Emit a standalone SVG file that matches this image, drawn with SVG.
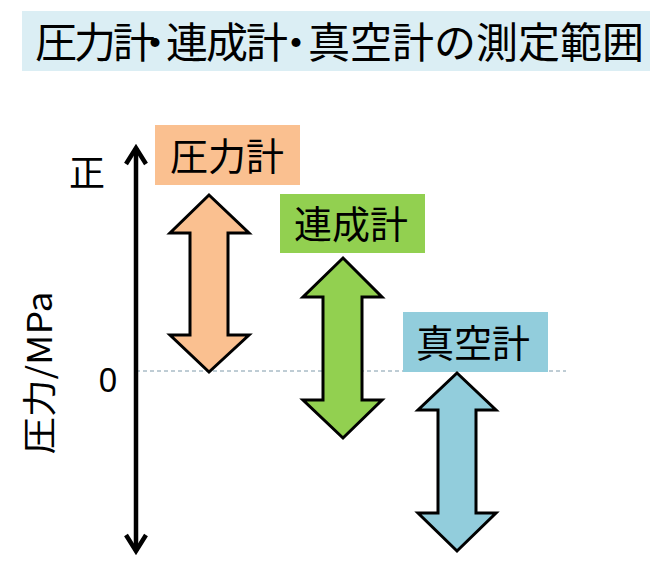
<svg xmlns="http://www.w3.org/2000/svg" width="658" height="577" viewBox="0 0 658 577">
<style>
  text { font-family: "Noto Sans CJK JP", "Liberation Sans", sans-serif; fill: #000; }
  .ttl { font-size: 42px; }
  .lbl { font-size: 38px; }
  .sei { font-size: 36px; }
  .zero { font-size: 33px; font-family: "Noto Sans", "Liberation Sans", sans-serif; }
  .yax { font-size: 34px; }
  .dbl { stroke: #000; stroke-width: 3; stroke-linejoin: miter; }
</style>
<defs>
  <marker id="ah" viewBox="0 0 24 24" refX="20" refY="12" markerWidth="24" markerHeight="24" markerUnits="userSpaceOnUse" orient="auto-start-reverse">
    <polyline points="4,2 20,12 4,22" fill="none" stroke="#000" stroke-width="4.5"/>
  </marker>
</defs>
<rect width="658" height="577" fill="#fff"/>
<g id="title">
  <rect x="22" y="11" width="628" height="60" fill="#DBEEF4"/>
  <text class="ttl" x="35 74 113 134 166 206 246 275 308 350 392 434 476 518 560 602" y="58">圧力計・連成計・真空計の測定範囲</text>
</g>
<g id="connectors">
  <line x1="136" y1="371" x2="566" y2="371" stroke="#7F9AAA" stroke-width="1" stroke-dasharray="4,3"/>
  <line x1="136" y1="551" x2="136" y2="148" stroke="#000" stroke-width="4.5" marker-start="url(#ah)" marker-end="url(#ah)"/>
</g>
<g id="axis-labels">
  <text class="sei" x="87" y="186" text-anchor="middle">正</text>
  <text class="zero" x="108" y="392" text-anchor="middle">0</text>
  <text class="yax" transform="translate(52,373) rotate(-90)" text-anchor="middle" textLength="163" lengthAdjust="spacingAndGlyphs">圧力/MPa</text>
</g>
<g id="pressure-gauge">
  <rect x="155" y="125" width="145" height="60" fill="#FAC090"/>
  <text class="lbl" x="227" y="170" text-anchor="middle">圧力計</text>
  <polygon class="dbl" fill="#FAC090" points="209,195 249,233 228,233 228,335 249,335 209,372 170,335 190,335 190,233 170,233"/>
</g>
<g id="compound-gauge">
  <rect x="280" y="194" width="145" height="59" fill="#92D050"/>
  <text class="lbl" x="351" y="238" text-anchor="middle">連成計</text>
  <polygon class="dbl" fill="#92D050" points="343,258 382,297 362,297 362,400 382,400 343,438 303,400 323,400 323,297 303,297"/>
</g>
<g id="vacuum-gauge">
  <rect x="403" y="312" width="145" height="60" fill="#92CDDC"/>
  <text class="lbl" x="473" y="357" text-anchor="middle">真空計</text>
  <polygon class="dbl" fill="#92CDDC" points="457,373 496,410 476,410 476,513 496,513 457,551 418,513 438,513 438,410 418,410"/>
</g>
</svg>
